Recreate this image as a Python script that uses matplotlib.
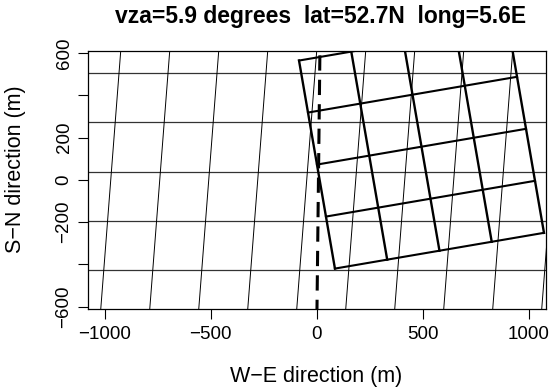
import numpy as np
import matplotlib.pyplot as plt

plt.rcParams['font.family'] = ['Liberation Sans', 'DejaVu Sans']

# horizontal grid rows (m)
row_y = [506, 273, 38, -194, -426]
# tilted grid columns: x at y=0 (m) and tilt dx/dy
col_x0 = [-972, -741, -510, -279, -48, 183, 414, 645, 876, 1107]
col_slope = 0.077

# rotated footprint square
sq_origin = (85, -420)   # bottom-left corner
sq_side = 1000
sq_angle = 9.75          # degrees
sq_div = 4

# dashed nadir line
dash_x = [0, 14]
dash_y = [-640, 592]

xticks = [-1000, -500, 0, 500, 1000]
yticks = [-600, -400, -200, 0, 200, 400, 600]
ylabels = ['\u2212600', '', '\u2212200', '0', '200', '', '600']

fig = plt.figure(figsize=(5.49, 3.92), dpi=100)
ax = fig.add_axes([0.16, 0.212, 0.8345, 0.658])

for y in row_y:
    ax.axhline(y, color='#333333', lw=0.9)

yy = np.array([-700, 700])
for x0 in col_x0:
    ax.plot(x0 + col_slope * yy, yy, color='black', lw=0.7)

a = np.radians(sq_angle)
u = np.array([np.cos(a), np.sin(a)])
v = np.array([-np.sin(a), np.cos(a)])
o = np.array(sq_origin, dtype=float)
step = sq_side / sq_div
for i in range(sq_div + 1):
    p = o + i * step * v
    q = p + sq_side * u
    ax.plot([p[0], q[0]], [p[1], q[1]], color='black', lw=1.5)
    p = o + i * step * u
    q = p + sq_side * v
    ax.plot([p[0], q[0]], [p[1], q[1]], color='black', lw=1.7)

ax.plot(dash_x, dash_y, color='black', lw=2.2, dashes=(5, 3))

ax.set_xlim(-1080, 1080)
ax.set_ylim(-611, 611)
ax.set_xticks(xticks)
ax.set_yticks(yticks)
ax.set_yticklabels(ylabels, rotation=90, va='center')
ax.tick_params(direction='out', length=7, width=0.8, labelsize=13.5)
ax.tick_params(axis='x', pad=5)
ax.tick_params(axis='y', pad=4)
for s in ax.spines.values():
    s.set_linewidth(0.9)

fig.text(0.5765, 0.039, 'W\u2212E direction (m)', fontsize=15.5,
         ha='center', va='center')
fig.text(0.029, 0.569, 'S\u2212N direction (m)', fontsize=15.5,
         ha='center', va='center', rotation=90)
fig.text(0.5844, 0.959, 'vza=5.9 degrees  lat=52.7N  long=5.6E', fontsize=16.5,
         fontweight='bold', ha='center', va='center')

fig.savefig('out.png', dpi=100)
